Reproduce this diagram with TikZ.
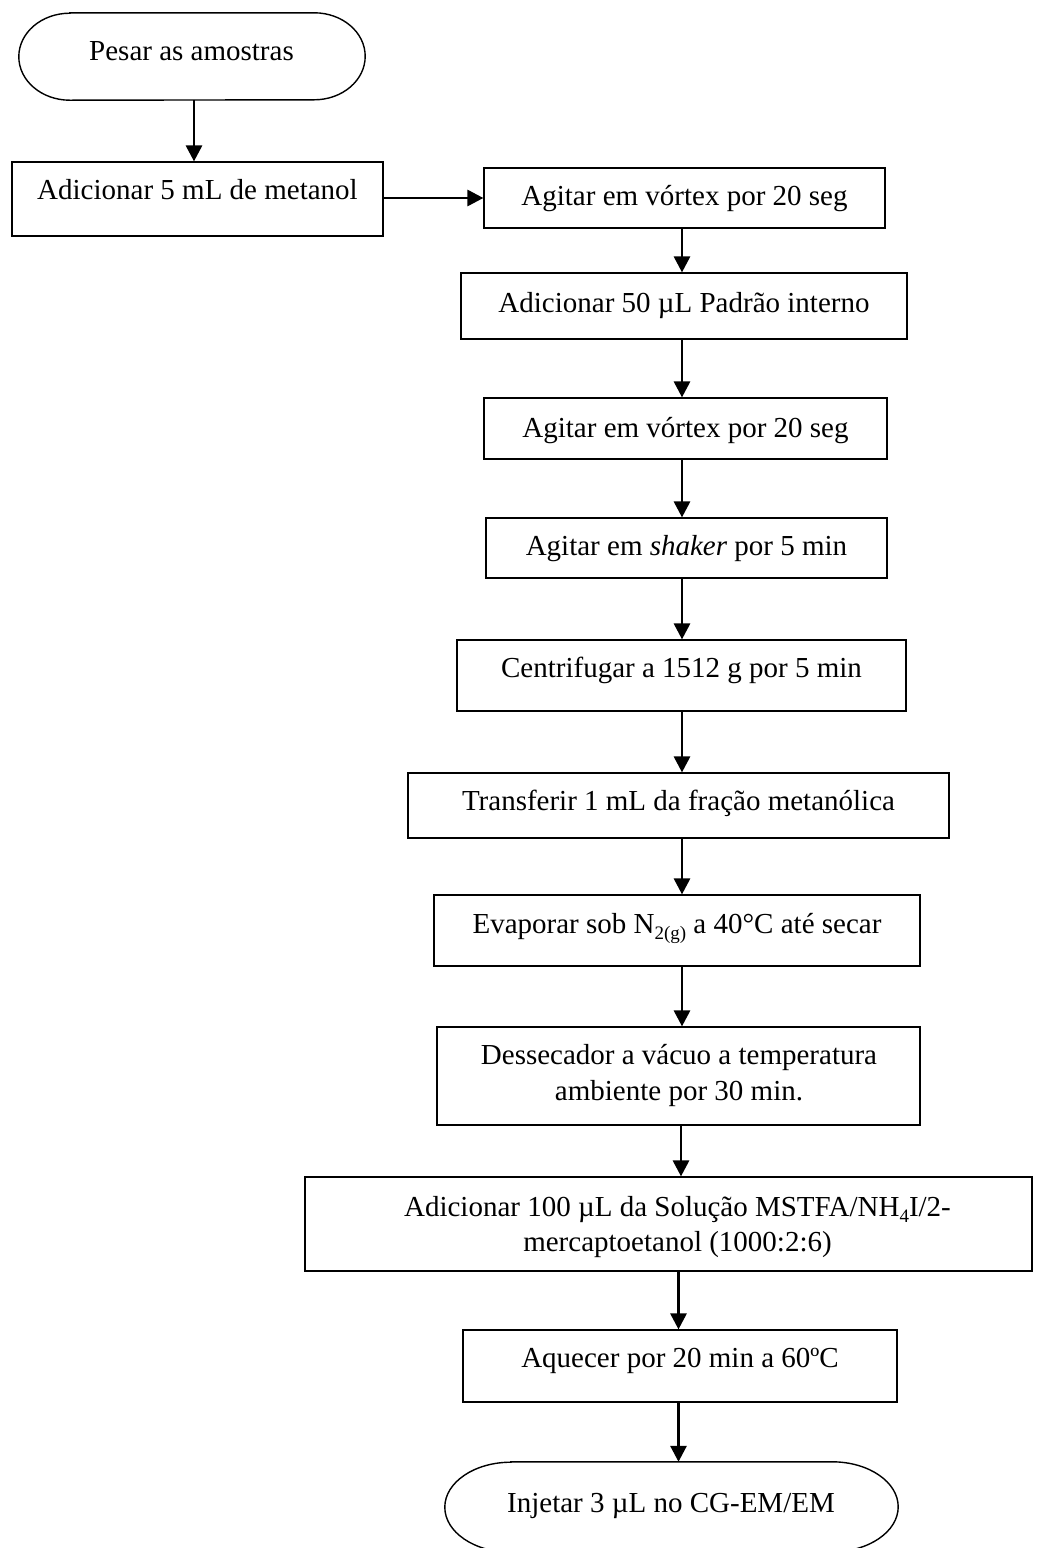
\documentclass[tikz,border=0pt]{standalone}
\usepackage{fontspec}
\setmainfont{Liberation Serif}
\usetikzlibrary{arrows.meta}
\newcommand\subs[1]{\raisebox{-0.22em}{\fontsize{19}{19}\selectfont #1}}
\begin{document}
\begin{tikzpicture}[x=1pt,y=-1pt,
  box/.style={draw, line width=1.2pt, inner sep=0pt},
  shp/.style={draw=none, inner sep=0pt},
  outl/.style={draw, line width=1.4pt},
  txt/.style={anchor=base, inner sep=0pt, font=\fontsize{29}{36}\selectfont},
  arr/.style={line width=2.9pt, -{Triangle[width=16pt,length=16pt]}},
]
\useasboundingbox (0,0) rectangle (1038,1548);
\begin{scope}
\clip (0,0) rectangle (1038,1548);
% terminators
\node[shp, minimum width=346pt, minimum height=87pt] (b1) at (192,56.5) {};
\draw[outl] ([xshift=51pt]b1.north west) -- ([xshift=-51pt]b1.north east)
  arc[start angle=90, end angle=-90, x radius=51pt, y radius=43.5pt]
  -- ([xshift=51pt]b1.south west)
  arc[start angle=270, end angle=90, x radius=51pt, y radius=43.5pt] -- cycle;
\node[shp, minimum width=453pt, minimum height=90pt] (b13) at (671.5,1507) {};
\draw[outl] ([xshift=66pt]b13.north west) -- ([xshift=-66pt]b13.north east)
  arc[start angle=90, end angle=-90, x radius=66pt, y radius=45pt]
  -- ([xshift=66pt]b13.south west)
  arc[start angle=270, end angle=90, x radius=66pt, y radius=45pt] -- cycle;
\end{scope}

% boxes
\node[box, minimum width=371pt, minimum height=74pt] (b2) at (197.5,199) {};
\node[box, minimum width=401pt, minimum height=60pt] (b3) at (684.5,198) {};
\node[box, minimum width=446pt, minimum height=66pt] (b4) at (684,306) {};
\node[box, minimum width=403pt, minimum height=61pt] (b5) at (685.5,428.5) {};
\node[box, minimum width=401pt, minimum height=60pt] (b6) at (686.5,548) {};
\node[box, minimum width=449pt, minimum height=71pt] (b7) at (681.5,675.5) {};
\node[box, minimum width=541pt, minimum height=65pt] (b8) at (678.5,805.5) {};
\node[box, minimum width=486pt, minimum height=71pt] (b9) at (677,930.5) {};
\node[box, minimum width=483pt, minimum height=98pt] (b10) at (678.5,1076) {};
\node[box, minimum width=727pt, minimum height=94pt] (b11) at (668.5,1224) {};
\node[box, minimum width=434pt, minimum height=72pt] (b12) at (680,1366) {};

% texts
\node[txt] (t1) at (191.5,60) {Pesar as amostras};
\node[txt] (t2) at (197.5,199) {Adicionar 5 mL de metanol};
\node[txt] (t3) at (684.5,205) {Agitar em vórtex por 20 seg};
\node[txt] (t4) at (684,312) {Adicionar 50 µL Padrão interno};
\node[txt] (t5) at (685.5,437) {Agitar em vórtex por 20 seg};
\node[txt] (t6) at (686.5,555) {Agitar em \textit{shaker} por 5 min};
\node[txt] (t7) at (681.5,677) {Centrifugar a 1512 g por 5 min};
\node[txt] (t8) at (678.5,810) {Transferir 1 mL da fração metanólica};
\node[txt] (t9) at (677,933) {Evaporar sob N\subs{2(g)} a 40°C até secar};
\node[txt] (t10a) at (679,1064) {Dessecador a vácuo a temperatura};
\node[txt] (t10b) at (679,1100) {ambiente por 30 min.};
\node[txt] (t11a) at (677.5,1216) {Adicionar 100 µL da Solução MSTFA/NH\subs{4}I/2-};
\node[txt] (t11b) at (677.5,1251) {mercaptoetanol (1000:2:6)};
\node[txt] (t12) at (680,1367) {Aquecer por 20 min a 60ºC};
\node[txt] (t13) at (671,1512) {Injetar 3 µL no CG-EM/EM};

% connector columns
\coordinate (c1) at (194,0);
\coordinate (col) at (682,0);
\coordinate (colm) at (681,0);
\coordinate (colb) at (678.5,0);

\draw[arr] (b1.south -| c1) -- (b2.north -| c1);
\draw[arr] (b2.east |- b3.west) -- (b3.west);
\draw[arr] (b3.south -| col) -- (b4.north -| col);
\draw[arr] (b4.south -| col) -- (b5.north -| col);
\draw[arr] (b5.south -| col) -- (b6.north -| col);
\draw[arr] (b6.south -| col) -- (b7.north -| col);
\draw[arr] (b7.south -| col) -- (b8.north -| col);
\draw[arr] (b8.south -| col) -- (b9.north -| col);
\draw[arr] (b9.south -| col) -- (b10.north -| col);
\draw[arr] (b10.south -| colm) -- (b11.north -| colm);
\draw[arr] (b11.south -| colb) -- (b12.north -| colb);
\draw[arr] (b12.south -| colb) -- (b13.north -| colb);
\end{tikzpicture}
\end{document}
